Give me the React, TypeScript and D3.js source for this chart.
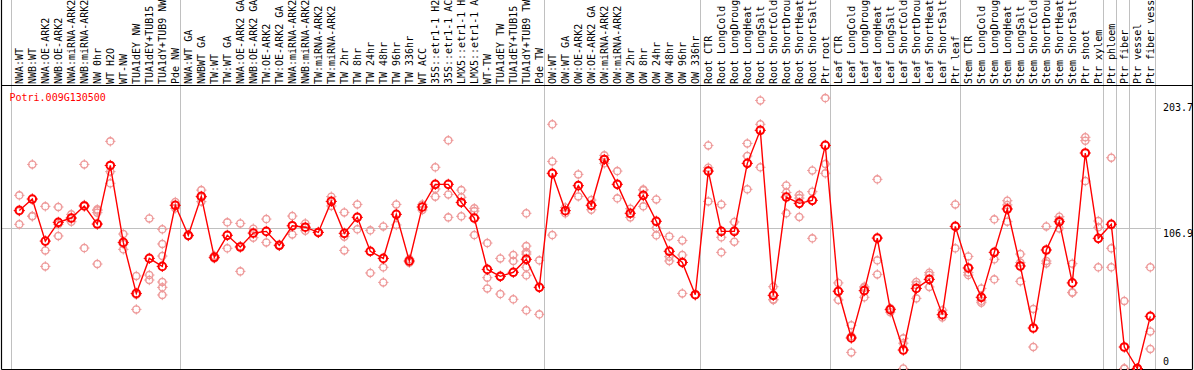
import React, { useEffect, useRef } from 'react';
import * as d3 from 'd3';

const geneId = 'Potri.009G130500';

// sample names as far as they can be read in the header strip
const labels = [
  'NWA:WT', 'NWB:WT', 'NWA:OE-ARK2', 'NWB:OE-ARK2', 'NWA:miRNA-ARK2', 'NWB:miRNA-ARK2',
  'NW 0hr', 'WT H2O', 'WT-NW', 'TUA1dEY NW', 'TUA1dEY+TUB15', 'TUA1dY+TUB9 NW', 'Pde NW',
  'NWA:WT GA', 'NWBWT GA', 'TW:WT', 'TW:WT GA', 'NWA:OE-ARK2 GA', 'NWB:OE-ARK2 GA',
  'TW:OE-ARK2', 'TW:OE-ARK2 GA', 'NWA:miRNA-ARK2', 'NWB:miRNA-ARK2', 'TW:miRNA-ARK2',
  'TW:miRNA-ARK2', 'TW 2hr', 'TW 8hr', 'TW 24hr', 'TW 48hr', 'TW 96hr', 'TW 336hr', 'WT ACC',
  '35S::etr1-1 H2', '35S::etr1-1 AC', 'LMX5::etr1-1 H', 'LMX5::etr1-1 A', 'WT-TW',
  'TUA1dEY TW', 'TUA1dEY+TUB15', 'TUA1dY+TUB9 TW', 'Pde TW',
  'OW:WT', 'OW:WT GA', 'OW:OE-ARK2', 'OW:OE-ARK2 GA', 'OW:miRNA-ARK2', 'OW:miRNA-ARK2',
  'OW 2hr', 'OW 8hr', 'OW 24hr', 'OW 48hr', 'OW 96hr', 'OW 336hr',
  'Root CTR', 'Root LongCold', 'Root LongDroug', 'Root LongHeat', 'Root LongSalt',
  'Root ShortCold', 'Root ShortDrou', 'Root ShortHeat', 'Root ShortSalt', 'Ptr root',
  'Leaf CTR', 'Leaf LongCold', 'Leaf LongDroug', 'Leaf LongHeat', 'Leaf LongSalt',
  'Leaf ShortCold', 'Leaf ShortDrou', 'Leaf ShortHeat', 'Leaf ShortSalt', 'Ptr leaf',
  'Stem CTR', 'Stem LongCold', 'Stem LongDroug', 'Stem LongHeat', 'Stem LongSalt',
  'Stem ShortCold', 'Stem ShortDrou', 'Stem ShortHeat', 'Stem ShortSalt', 'Ptr shoot', 'Ptr xylem',
  'Ptr phloem', 'Ptr fiber', 'Ptr vessel', 'Ptr fiber vess',
];

const means = [
  120.6, 129.3, 97.2, 111.5, 114.8, 124.0, 110.2, 154.9, 96.2, 57.3, 84.0, 77.9, 124.5,
  101.6, 131.3, 84.8, 101.6, 92.7, 103.3, 104.6, 94.0, 108.9, 107.8, 103.8, 127.5, 103.1,
  115.3, 89.4, 84.0, 117.6, 82.0, 123.2, 140.5, 140.5, 126.7, 114.8, 75.6, 70.3, 73.4, 83.3, 61.9,
  148.9, 120.4, 139.5, 124.5, 159.5, 140.5, 118.4, 132.1, 112.3, 89.4, 80.9, 56.3,
  150.6, 104.6, 104.6, 156.5, 181.7, 55.8, 130.8, 126.0, 128.3, 170.2,
  58.9, 23.3, 59.4, 99.5, 44.9, 14.1, 61.1, 68.0, 41.1, 108.4,
  76.7, 54.3, 88.6, 121.7, 78.2, 30.9, 90.4, 112.0, 65.3, 164.4, 99.3,
  110.0, 16.4, 0, 39.8,
];

const replicates = [
  [132.1, 120.0, 110.0], [155.7, 116.1, 116.3], [123.7, 90.1, 77.9], [123.2, 101.1, 110.0],
  [117.6, 112.0, 114.8], [155.7, 124.8, 91.9], [121.4, 118.9, 120.5, 79.7], [173.3, 150.2, 141.3],
  [102.6, 90.9, 95.0], [70.6, 45.1, 56.2], [114.5, 71.3, 67.5], [106.2, 95.0, 85.8, 66.0, 61.9, 56.1],
  [127.0, 122.2],
  [101.6, 101.0], [136.1, 127.3, 130.5], [86.0, 84.0], [111.5, 91.7], [110.7, 74.1, 93.3],
  [106.7, 99.8], [114.0, 96.2], [94.0, 93.5], [116.3, 102.3], [110.7, 105.1], [103.8, 104.2],
  [131.1, 124.0], [119.1, 100.6, 90.1], [125.2, 106.2], [105.4, 72.9], [108.4, 77.2, 65.7],
  [125.2, 109.5], [83.5, 80.7], [125.2, 120.9], [153.5, 131.1, 137.0], [174.1, 132.8, 115.3],
  [136.1, 130.6, 116.1], [122.2, 120.1, 101.8], [95.7, 69.3, 61.1], [84.0, 56.8, 70.0],
  [86.6, 82.0, 52.8], [118.4, 93.4, 88.9, 87.3, 77.2, 71.1, 44.4], [82.5, 41.3],
  [186.3, 158.0, 101.8], [122.9, 118.4], [148.1, 131.3], [128.5, 121.1], [162.6, 156.5],
  [150.6, 129.8], [121.9, 115.3], [136.1, 136.5, 123.7], [129.0, 107.1, 101.6],
  [100.8, 85.3, 82.0], [97.7, 86.6, 57.3], [56.3, 56.0],
  [170.2, 153.2, 127.5], [125.2, 100.1, 88.6], [111.8, 96.7, 105.3], [171.7, 162.1, 136.7],
  [204.5, 186.3, 153.5], [62.4, 52.7, 52.3], [139.7, 134.3, 118.4], [132.3, 130.0, 115.6],
  [151.1, 134.9, 99.3], [206.3, 156.0, 148.9],
  [65.3, 52.3, 59.0], [33.0, 12.3, 24.6], [61.5, 54.3, 62.4], [144.3, 82.5, 71.8],
  [45.7, 42.9, 46.0], [23.0, 19.3, 0], [66.0, 53.5, 63.8], [73.1, 71.3, 62.2], [44.5, 39.0],
  [125.2, 91.7],
  [85.5, 71.3, 73.3], [61.1, 50.2, 51.6], [113.8, 83.3, 68.0], [128.0, 124.8, 112.0],
  [87.3, 66.5, 80.8], [45.4, 16.4], [108.4, 82.0, 80.2], [115.8, 113.3, 106.9],
  [80.0, 58.1, 57.8], [176.4, 173.8, 143.0], [112.5, 107.7, 77.2],
  [160.8, 91.7, 77.2], [51.5, 0, 0], [0, 0, 0], [77.2, 28.3, 14.9],
];

// first column of each sample group, gets a grey divider on its left
const groupStarts = [0, 13, 41, 53, 63, 73, 84, 85, 86];
const yTicks = [203.7, 106.9, 0];

const FONT = "'DejaVu Sans Mono', 'Liberation Mono', monospace";

// circle with the small tick marks at 12, 3, 6 and 9 o'clock
function tickPath(r: number) {
  const a = r - 1.2, b = r + 1.6;
  return `M0,${-b}V${-a}M0,${a}V${b}M${-b},0H${-a}M${a},0H${b}`;
}

export default function App() {
  const ref = useRef<SVGSVGElement | null>(null);

  useEffect(() => {
    const svg = d3.select(ref.current);
    svg.selectAll('*').remove();

    const width = 1194;
    const height = 370;
    const plotTop = 85;
    const plotBottom = 369;

    const x = d3.scaleBand<number>()
      .domain(d3.range(labels.length))
      .range([11.3, 1155.3]);
    const cx = (i: number) => (x(i) as number) + 8;

    const y = d3.scaleLinear()
      .domain([0, 203.7])
      .range([368.5, 101.5]);

    svg.append('rect').attr('width', width).attr('height', height).attr('fill', '#fff');

    // grey dividers
    const dividers = groupStarts.map(i => x(i) as number).concat([x.range()[1]]);
    svg.append('g')
      .selectAll('line')
      .data(dividers)
      .enter()
      .append('line')
      .attr('x1', d => Math.round(d) + 0.5)
      .attr('x2', d => Math.round(d) + 0.5)
      .attr('y1', 0)
      .attr('y2', plotBottom)
      .attr('stroke', '#c0c0c0')
      .attr('stroke-width', 1);

    svg.append('line')
      .attr('x1', 2)
      .attr('x2', 1161)
      .attr('y1', Math.round(y(106.9)) + 0.5)
      .attr('y2', Math.round(y(106.9)) + 0.5)
      .attr('stroke', '#c0c0c0');

    // frame
    const frame = svg.append('g').attr('stroke', '#000').attr('stroke-width', 1.2).attr('fill', 'none');
    frame.append('line').attr('x1', 1.5).attr('x2', 1.5).attr('y1', 0).attr('y2', plotBottom + 0.5);
    frame.append('line').attr('x1', 1192.5).attr('x2', 1192.5).attr('y1', 0).attr('y2', plotBottom + 0.5);
    frame.append('line').attr('x1', 1.5).attr('x2', 1192.5).attr('y1', plotTop + 0.5).attr('y2', plotTop + 0.5);
    frame.append('line').attr('x1', 1.5).attr('x2', 1192.5).attr('y1', plotBottom + 0.5).attr('y2', plotBottom + 0.5);

    // sample labels, rotated
    svg.append('g')
      .selectAll('text')
      .data(labels)
      .enter()
      .append('text')
      .attr('transform', (d, i) => `translate(${cx(i) + 4},${plotTop - 1}) rotate(-90)`)
      .attr('font-family', FONT)
      .attr('font-size', 10)
      .attr('fill', '#000')
      .text(d => d);

    // y labels on the right
    svg.append('g')
      .selectAll('text')
      .data(yTicks)
      .enter()
      .append('text')
      .attr('x', 1163)
      .attr('y', d => (d === 0 ? y(d) - 3.5 : y(d) + 9))
      .attr('font-family', FONT)
      .attr('font-size', 10)
      .attr('fill', '#000')
      .text(d => (d === 0 ? '0' : d.toFixed(1)));

    svg.append('text')
      .attr('x', 9.5)
      .attr('y', 100.5)
      .attr('font-family', FONT)
      .attr('font-size', 10)
      .attr('fill', '#ff0000')
      .text(geneId);

    const plot = svg.append('g');

    // replicate values
    const repPoints = replicates.flatMap((vals, i) => vals.map(v => ({ i, v })));
    const rep = plot.append('g')
      .attr('stroke', '#ee9a9a')
      .attr('fill', 'none')
      .selectAll('g')
      .data(repPoints)
      .enter()
      .append('g')
      .attr('transform', d => `translate(${cx(d.i)},${y(d.v)})`);
    rep.append('circle').attr('r', 3.6).attr('stroke-width', 1.3);
    rep.append('path').attr('d', tickPath(3.6)).attr('stroke-width', 1);

    // mean line
    const line = d3.line<number>()
      .x((d, i) => cx(i))
      .y(d => y(d));
    plot.append('path')
      .datum(means)
      .attr('d', line)
      .attr('fill', 'none')
      .attr('stroke', '#ff0000')
      .attr('stroke-width', 1.4);

    const mean = plot.append('g')
      .attr('stroke', '#ff0000')
      .attr('fill', 'none')
      .selectAll('g')
      .data(means)
      .enter()
      .append('g')
      .attr('transform', (d, i) => `translate(${cx(i)},${y(d)})`);
    mean.append('circle').attr('r', 3.8).attr('stroke-width', 2);
    mean.append('path').attr('d', tickPath(4)).attr('stroke-width', 1);
  }, []);

  return (
    <svg
      ref={ref}
      width={1194}
      height={370}
      style={{ position: 'absolute', left: 0, top: 0, display: 'block' }}
    />
  );
}
